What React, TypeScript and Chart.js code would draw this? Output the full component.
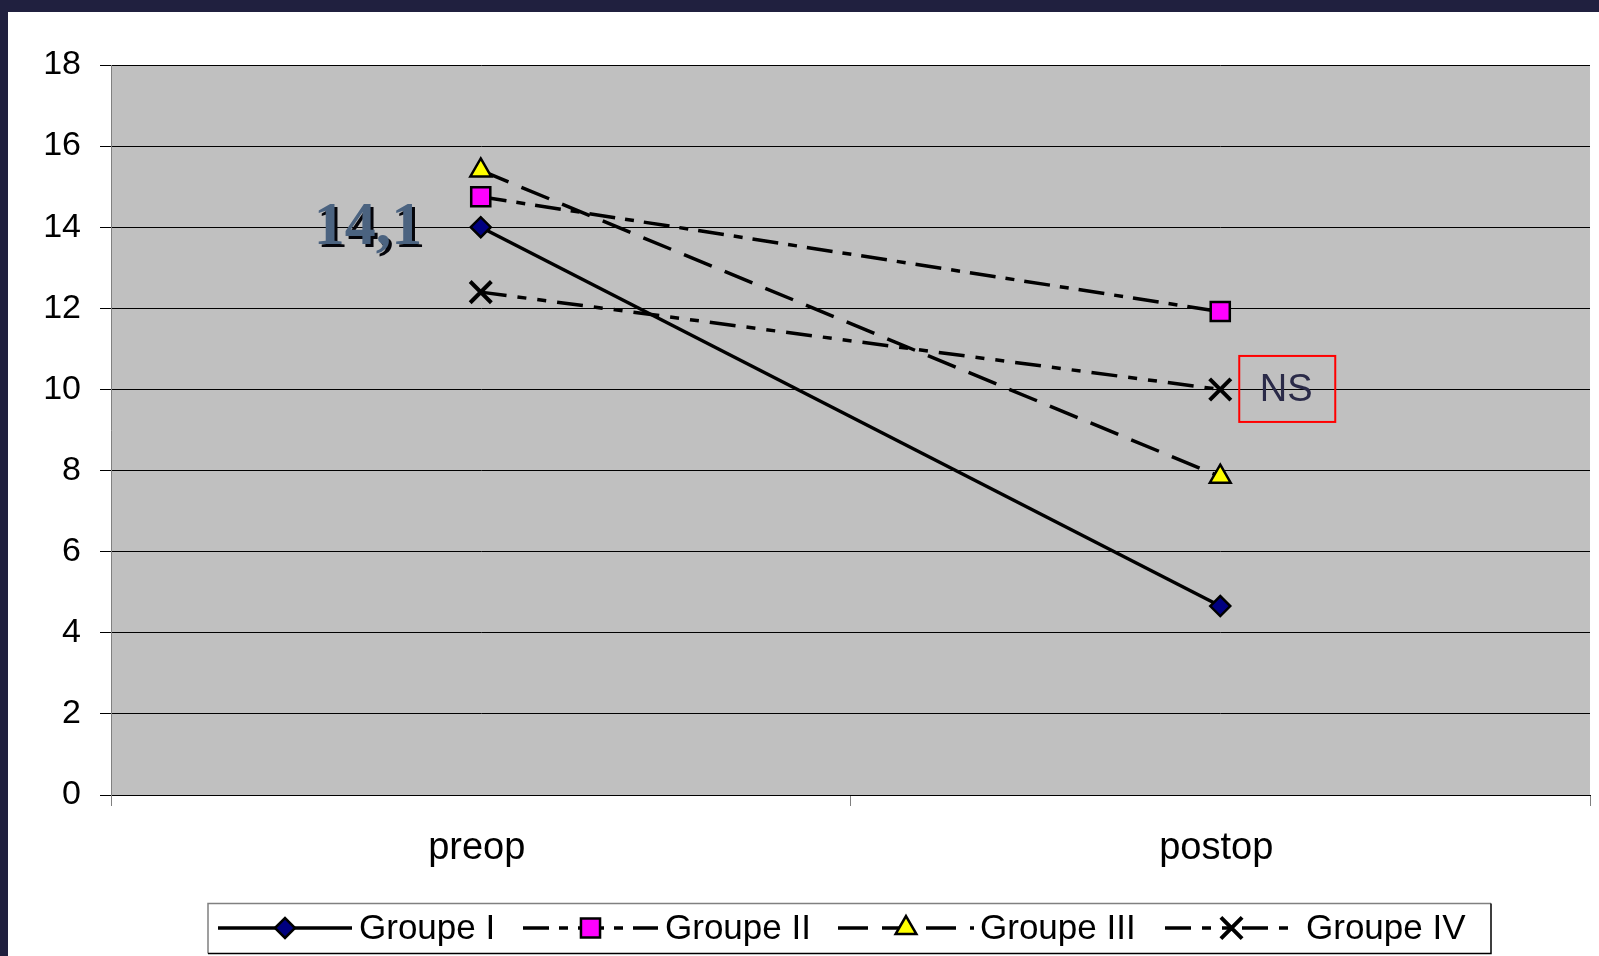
import React, { useEffect, useRef } from "react";
import { Chart, registerables } from "chart.js";

Chart.register(...registerables);

// ---------- data ----------
const categories = ["preop", "postop"];
const seriesNames = ["Groupe I", "Groupe II", "Groupe III", "Groupe IV"];
const groupI = [14.0, 4.66];
const groupII = [14.75, 11.92];
const groupIII = [15.4, 7.85];
const groupIV = [12.4, 10.0];
const yMin = 0;
const yMax = 18;
const yStep = 2;
const annotationText = "14,1";
const nsText = "NS";

// ---------- styles ----------
const SANS = '"Liberation Sans", Arial, sans-serif';
const SERIF = '"Liberation Serif", "Times New Roman", serif';
const dashes = [[], [26, 10, 9, 10], [30, 14], [26, 11, 9, 11, 9, 11]];
const pointStyles = ["rectRot", "rect", "triangle", "crossRot"];
const pointFills = ["#000080", "#FF00FF", "#FFFF00", "#000000"];
const pointRadii = [10, 13.5, 12, 15];
const pointBorders = [2.5, 2.5, 2.5, 4];
const LINE_W = 3.5;

function drawMarker(ctx: CanvasRenderingContext2D, style: string, x: number, y: number, r: number, fill: string, bw: number) {
  ctx.save();
  ctx.setLineDash([]);
  ctx.lineWidth = bw;
  ctx.strokeStyle = "#000";
  ctx.fillStyle = fill;
  ctx.beginPath();
  if (style === "rectRot") {
    ctx.moveTo(x - r, y);
    ctx.lineTo(x, y - r);
    ctx.lineTo(x + r, y);
    ctx.lineTo(x, y + r);
    ctx.closePath();
    ctx.fill();
    ctx.stroke();
  } else if (style === "rect") {
    const s = r * Math.SQRT1_2;
    ctx.rect(x - s, y - s, 2 * s, 2 * s);
    ctx.fill();
    ctx.stroke();
  } else if (style === "triangle") {
    let a = 0;
    ctx.moveTo(x + Math.sin(a) * r, y - Math.cos(a) * r);
    a += (2 * Math.PI) / 3;
    ctx.lineTo(x + Math.sin(a) * r, y - Math.cos(a) * r);
    a += (2 * Math.PI) / 3;
    ctx.lineTo(x + Math.sin(a) * r, y - Math.cos(a) * r);
    ctx.closePath();
    ctx.fill();
    ctx.stroke();
  } else {
    const o = r * Math.SQRT1_2;
    ctx.moveTo(x - o, y - o);
    ctx.lineTo(x + o, y + o);
    ctx.moveTo(x + o, y - o);
    ctx.lineTo(x - o, y + o);
    ctx.stroke();
  }
  ctx.restore();
}

const backgroundPlugin = {
  id: "plotBg",
  beforeDraw(chart: any) {
    const { ctx, chartArea } = chart;
    ctx.save();
    ctx.fillStyle = "#C0C0C0";
    ctx.fillRect(chartArea.left, chartArea.top, chartArea.right - chartArea.left, chartArea.bottom - chartArea.top);
    ctx.restore();
  },
};

const extrasPlugin = {
  id: "extras",
  afterDraw(chart: any) {
    const { ctx } = chart;
    const xs = chart.scales.x;
    const ys = chart.scales.y;

    // "14,1" annotation
    ctx.save();
    ctx.font = `bold 62px ${SERIF}`;
    ctx.textAlign = "left";
    ctx.textBaseline = "alphabetic";
    const ax = xs.getPixelForValue(0) - 167;
    const ay = ys.getPixelForValue(14) + 17;
    ctx.fillStyle = "#05050A";
    ctx.fillText(annotationText, ax + 3, ay + 3);
    ctx.fillStyle = "#4B6380";
    ctx.fillText(annotationText, ax, ay);
    ctx.restore();

    // NS box
    const px = xs.getPixelForValue(1);
    const py = ys.getPixelForValue(10);
    ctx.save();
    ctx.strokeStyle = "#FF0000";
    ctx.lineWidth = 2;
    ctx.strokeRect(px + 19, py - 33.5, 96, 66);
    ctx.fillStyle = "#2A2A48";
    ctx.font = `38px ${SANS}`;
    ctx.textAlign = "center";
    ctx.textBaseline = "middle";
    ctx.fillText(nsText, px + 66, py + 1);
    ctx.restore();

    // Legend
    const lx0 = 200, lx1 = 1483, ly0 = 891.5, ly1 = 941.5;
    ctx.save();
    ctx.lineWidth = 1.5;
    ctx.strokeStyle = "#808080";
    ctx.beginPath();
    ctx.moveTo(lx0, ly1);
    ctx.lineTo(lx0, ly0);
    ctx.lineTo(lx1, ly0);
    ctx.stroke();
    ctx.strokeStyle = "#000";
    ctx.beginPath();
    ctx.moveTo(lx1, ly0);
    ctx.lineTo(lx1, ly1);
    ctx.lineTo(lx0, ly1);
    ctx.stroke();
    const items = [
      { l0: 210, l1: 344, t: 351 },
      { l0: 515, l1: 650, t: 657 },
      { l0: 830, l1: 966, t: 972 },
      { l0: 1157, l1: 1290, t: 1298 },
    ];
    const cy = 916;
    items.forEach((it, i) => {
      ctx.save();
      ctx.strokeStyle = "#000";
      ctx.lineWidth = LINE_W;
      ctx.setLineDash(dashes[i]);
      ctx.beginPath();
      ctx.moveTo(it.l0, cy);
      ctx.lineTo(it.l1, cy);
      ctx.stroke();
      ctx.restore();
      drawMarker(ctx, pointStyles[i], (it.l0 + it.l1) / 2, cy, pointRadii[i], pointFills[i], pointBorders[i]);
      ctx.fillStyle = "#000";
      ctx.font = `35px ${SANS}`;
      ctx.textAlign = "left";
      ctx.textBaseline = "middle";
      ctx.fillText(seriesNames[i], it.t, cy + 1);
    });
    ctx.restore();
  },
};

export default function App() {
  const ref = useRef<HTMLCanvasElement>(null);
  useEffect(() => {
    document.body.style.margin = "0";
    const canvas = ref.current!;
    const seriesData = [groupI, groupII, groupIII, groupIV];
    const chart = new Chart(canvas, {
      type: "line",
      data: {
        labels: categories,
        datasets: seriesData.map((d, i) => ({
          label: seriesNames[i],
          data: d,
          borderColor: "#000",
          borderWidth: LINE_W,
          borderDash: dashes[i],
          fill: false,
          tension: 0,
          pointStyle: pointStyles[i] as any,
          pointRadius: pointRadii[i],
          pointHoverRadius: pointRadii[i],
          pointBackgroundColor: pointFills[i],
          pointBorderColor: "#000",
          pointBorderWidth: pointBorders[i],
        })),
      },
      options: {
        animation: false,
        responsive: false,
        maintainAspectRatio: false,
        devicePixelRatio: 1,
        layout: { autoPadding: false, padding: { left: 0, top: 53, right: 9, bottom: 89 } },
        plugins: { legend: { display: false }, tooltip: { enabled: false } },
        scales: {
          x: {
            type: "category",
            offset: true,
            grid: { offset: true, drawOnChartArea: false, drawTicks: true, tickLength: 11, color: "#808080", lineWidth: 1 },
            border: { display: true, color: "#000", width: 1 },
            ticks: { color: "#000", font: { family: SANS, size: 38 }, padding: 20, maxRotation: 0, labelOffset: -4 },
            afterFit: (s: any) => {
              s.height = 72;
              s.paddingLeft = 0;
              s.paddingRight = 0;
            },
          },
          y: {
            min: yMin,
            max: yMax,
            ticks: { stepSize: yStep, color: "#000", font: { family: SANS, size: 34 }, padding: 19 },
            grid: { color: "#000", lineWidth: 1, drawTicks: true, tickLength: 11 },
            border: { display: true, color: "#808080", width: 1 },
            afterFit: (s: any) => {
              s.width = 103;
            },
          },
        },
      },
      plugins: [backgroundPlugin, extrasPlugin],
    } as any);
    return () => chart.destroy();
  }, []);
  return (
    <div style={{ position: "relative", width: 1599, height: 956, background: "#20203F", overflow: "hidden" }}>
      <div style={{ position: "absolute", left: 8, top: 12, width: 1591, height: 944, background: "#fff" }}>
        <canvas ref={ref} width={1591} height={944} style={{ display: "block", width: 1591, height: 944 }} />
      </div>
    </div>
  );
}
